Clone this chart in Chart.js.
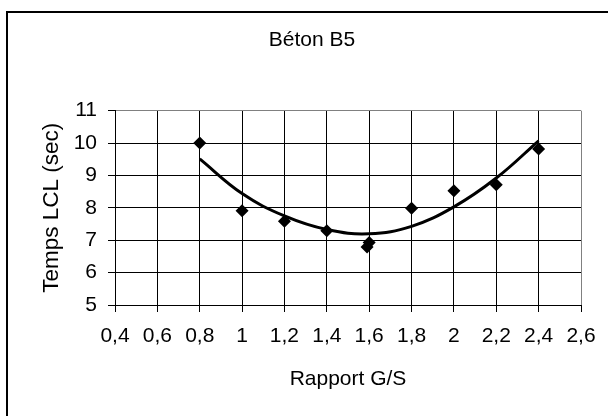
<!DOCTYPE html>
<html>
<head>
<meta charset="utf-8">
<script src="https://cdn.jsdelivr.net/npm/chart.js@4/dist/chart.umd.min.js"></script>
<style>
  html, body { margin: 0; padding: 0; background: #ffffff; }
  canvas { display: block; }
</style>
</head>
<body>
<canvas id="c" width="608" height="416"></canvas>
<script>
// ---- data ----
const gsRatio   = [0.8, 1.0, 1.2, 1.4, 1.6, 1.59, 1.8, 2.0, 2.2, 2.4];
const tempsLCL  = [10.0, 7.91, 7.59, 7.29, 6.93, 6.79, 7.99, 8.53, 8.71, 9.82];
const trendX    = [0.8, 1.0, 1.2, 1.4, 1.6, 1.8, 2.0, 2.2, 2.4];
const trendY    = [9.51, 8.44, 7.75, 7.33, 7.2, 7.43, 8.03, 8.92, 10.07];
const xTickValues = [0.4, 0.6, 0.8, 1.0, 1.2, 1.4, 1.6, 1.8, 2.0, 2.2, 2.4, 2.6];
const xTickLabels = ['0,4', '0,6', '0,8', '1', '1,2', '1,4', '1,6', '1,8', '2', '2,2', '2,4', '2,6'];
const yTickValues = [5, 6, 7, 8, 9, 10, 11];
const yTickLabels = ['5', '6', '7', '8', '9', '10', '11'];
const chartTitle = 'Béton B5';
const xTitle = 'Rapport G/S';
const yTitle = 'Temps LCL (sec)';

const FONT = '"Liberation Sans", Arial, sans-serif';

const framePlugin = {
  id: 'frame',
  beforeDraw(chart) {
    const ctx = chart.ctx;
    ctx.save();
    ctx.fillStyle = '#ffffff';
    ctx.fillRect(0, 0, chart.width, chart.height);
    ctx.fillStyle = '#000000';
    ctx.fillRect(6, 11, chart.width - 6, 2);
    ctx.fillRect(6, 11, 2, chart.height - 11);
    ctx.restore();
  }
};

new Chart(document.getElementById('c'), {
  type: 'scatter',
  data: {
    datasets: [
      {
        label: 'Temps LCL',
        data: gsRatio.map((x, i) => ({ x: x, y: tempsLCL[i] })),
        showLine: false,
        pointStyle: 'rectRot',
        pointRadius: 6.5,
        pointHoverRadius: 6.5,
        backgroundColor: '#000000',
        borderColor: '#000000',
        borderWidth: 0,
        order: 1
      },
      {
        label: 'Tendance',
        data: trendX.map((x, i) => ({ x: x, y: trendY[i] })),
        showLine: true,
        tension: 0.4,
        borderColor: '#000000',
        borderWidth: 3,
        pointRadius: 0,
        pointHoverRadius: 0,
        fill: false,
        order: 2
      }
    ]
  },
  options: {
    responsive: false,
    animation: false,
    devicePixelRatio: 1,
    layout: { padding: { left: 43, right: 27, top: 0, bottom: 0 } },
    plugins: {
      legend: { display: false },
      tooltip: { enabled: false },
      title: {
        display: true,
        text: chartTitle,
        color: '#000000',
        font: { family: FONT, size: 21, weight: 'normal' },
        padding: { top: 27.4, bottom: 58.1 }
      }
    },
    scales: {
      x: {
        type: 'linear',
        min: 0.4,
        max: 2.6,
        afterBuildTicks(scale) { scale.ticks = xTickValues.map(v => ({ value: v })); },
        afterFit(scale) { scale.height = 111; },
        ticks: {
          autoSkip: false,
          maxRotation: 0,
          color: '#000000',
          padding: 12.1,
          font: { family: FONT, size: 21 },
          callback: (v, i) => xTickLabels[i]
        },
        grid: {
          color: (c) => (c.tick && Math.abs(c.tick.value - 2.6) < 1e-6) ? '#808080' : '#000000',
          tickColor: '#000000',
          lineWidth: 1,
          drawTicks: true,
          tickLength: 7
        },
        border: { display: true, color: '#000000', width: 1 },
        title: {
          display: true,
          text: xTitle,
          color: '#000000',
          font: { family: FONT, size: 21 },
          padding: { top: 0, bottom: 24.4 }
        }
      },
      y: {
        type: 'linear',
        min: 5,
        max: 11,
        afterBuildTicks(scale) { scale.ticks = yTickValues.map(v => ({ value: v })); },
        afterFit(scale) { scale.width = 72; },
        ticks: {
          autoSkip: false,
          color: '#000000',
          padding: 11,
          font: { family: FONT, size: 21 },
          callback: (v, i) => yTickLabels[i]
        },
        grid: {
          color: (c) => (c.tick && c.tick.value === 11) ? '#808080' : '#000000',
          tickColor: '#000000',
          lineWidth: 1,
          drawTicks: true,
          tickLength: 7
        },
        border: { display: true, color: '#000000', width: 1 },
        title: {
          display: true,
          text: yTitle,
          color: '#000000',
          font: { family: FONT, size: 22.5 },
          padding: { top: -4.5, bottom: 0 }
        }
      }
    }
  },
  plugins: [framePlugin]
});
</script>
</body>
</html>
